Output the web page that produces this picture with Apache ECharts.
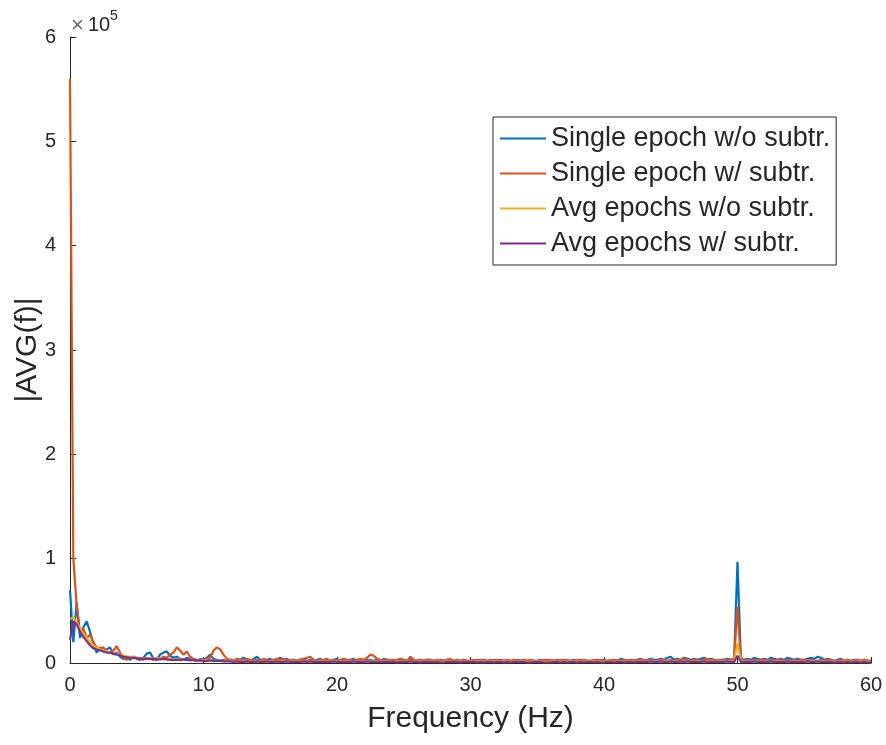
<!DOCTYPE html>
<html>
<head>
<meta charset="utf-8">
<script src="https://cdn.jsdelivr.net/npm/echarts@6/dist/echarts.min.js"></script>
<style>
  html, body { margin: 0; padding: 0; background: #fff; }
  #chart { width: 886px; height: 745px; }
</style>
</head>
<body>
<div id="chart"></div>
<script>
// Spectrum magnitude |AVG(f)| on a 0.25 Hz frequency grid, 0..60 Hz.
// Magnitudes below are written in thousands (x1e3).
const FREQ_STEP = 0.25;
const MAG_UNIT = 1000;

const seriesNames = [
  'Single epoch w/o subtr.',
  'Single epoch w/ subtr.',
  'Avg epochs w/o subtr.',
  'Avg epochs w/ subtr.'
];

// one row per Hz (4 bins each), last entry is 60 Hz
const singleNoSub = [
  70, 20, 58, 24,
  34, 40, 30, 18,
  10, 15, 11, 13,
  15, 8, 10, 6,
  4, 5, 3, 6,
  4, 3, 5, 9,
  10, 4, 3, 8,
  10, 11, 7, 5,
  6, 4, 3, 5,
  4, 3, 2, 4,
  3, 5, 8, 4,
  3, 2, 3, 2,
  3, 2, 4, 3,
  5, 3, 2, 4,
  6, 3, 2, 3,
  4, 2, 3, 5,
  3, 4, 2, 3,
  2, 3, 4, 2,
  3, 2, 3, 4,
  2, 3, 2, 3,
  4, 2, 3, 2,
  3, 4, 2, 3,
  2, 3, 3, 2,
  3, 2, 4, 3,
  2, 3, 2, 2,
  3, 2, 3, 2,
  2, 3, 2, 3,
  3, 2, 2, 3,
  2, 3, 2, 2,
  3, 2, 3, 2,
  2, 2, 3, 2,
  3, 2, 2, 3,
  2, 3, 2, 2,
  2, 2, 3, 2,
  3, 2, 2, 2,
  2, 3, 2, 3,
  2, 2, 3, 2,
  3, 2, 2, 3,
  2, 3, 2, 2,
  2, 2, 3, 2,
  3, 2, 2, 3,
  2, 4, 3, 2,
  3, 2, 3, 4,
  2, 3, 4, 3,
  3, 4, 3, 5,
  6, 3, 4, 3,
  5, 4, 3, 4,
  3, 4, 5, 3,
  4, 3, 2, 3,
  3, 4, 3, 4,
  97, 4, 3, 4,
  3, 5, 4, 3,
  4, 3, 5, 4,
  3, 4, 3, 5,
  4, 3, 4, 3,
  3, 4, 5, 4,
  6, 5, 3, 4,
  3, 2, 3, 4,
  2, 3, 2, 3,
  3, 2, 3, 2,
  2
];

const singleSub = [
  560, 100, 55, 30,
  33, 24, 27, 20,
  15, 14, 15, 11,
  10, 12, 16, 10,
  5, 3, 5, 6,
  5, 4, 3, 5,
  4, 3, 5, 4,
  6, 5, 8, 10,
  15, 12, 8, 11,
  6, 4, 3, 2,
  3, 4, 5, 12,
  15, 13, 8, 4,
  3, 2, 4, 3,
  2, 4, 3, 2,
  3, 2, 4, 3,
  2, 3, 4, 3,
  4, 2, 3, 3,
  2, 3, 4, 5,
  6, 3, 2, 3,
  3, 4, 2, 3,
  2, 3, 4, 3,
  3, 2, 3, 4,
  3, 5, 8, 7,
  4, 3, 2, 3,
  3, 2, 3, 4,
  3, 2, 6, 3,
  2, 3, 2, 3,
  3, 2, 3, 2,
  2, 3, 4, 2,
  3, 2, 3, 2,
  2, 3, 2, 3,
  2, 2, 3, 2,
  3, 2, 2, 3,
  2, 3, 2, 2,
  3, 2, 3, 2,
  2, 2, 3, 2,
  3, 2, 2, 3,
  2, 3, 2, 2,
  3, 2, 3, 2,
  2, 3, 2, 3,
  2, 2, 3, 2,
  3, 2, 2, 3,
  2, 3, 2, 3,
  3, 2, 3, 2,
  2, 3, 3, 2,
  3, 2, 3, 3,
  4, 3, 2, 3,
  3, 2, 3, 4,
  3, 2, 3, 2,
  3, 2, 3, 4,
  54, 3, 2, 3,
  2, 3, 2, 3,
  3, 2, 3, 2,
  3, 3, 2, 3,
  2, 3, 2, 3,
  3, 2, 3, 2,
  2, 3, 2, 3,
  3, 2, 2, 3,
  2, 3, 2, 2,
  3, 2, 3, 2,
  2
];

const avgNoSub = [
  42, 44, 38, 33,
  28, 24, 20, 17,
  15, 13, 12, 11,
  10, 9, 8.5, 8,
  7, 6.5, 6, 5.5,
  5, 5, 4.5, 4.5,
  4, 4, 4.5, 4,
  4, 3.5, 4, 3.5,
  4, 3.5, 3, 3,
  3, 3, 2.5, 3,
  2.5, 2.5, 2.5, 2,
  2.5, 2, 2, 2,
  2, 1.5, 2, 1.5,
  1.5, 2, 1.5, 1.5,
  2, 1.5, 1.5, 2,
  1.5, 1.5, 2, 1.5,
  1.5, 2, 1.5, 1.5,
  1.5, 1.5, 2, 1.5,
  2, 1.5, 1.5, 1.5,
  1.5, 1.5, 1.5, 2,
  1.5, 1.5, 1.5, 1.5,
  1.5, 2, 1.5, 1.5,
  1.5, 2, 2, 1.5,
  1.5, 1.5, 1.5, 1.5,
  1.5, 1.5, 1, 1.5,
  1.5, 1.5, 2, 1.5,
  1.5, 1, 1.5, 1.5,
  1.5, 1.5, 1.5, 1,
  1, 1.5, 1.5, 1.5,
  1.5, 1, 1.5, 1.5,
  1.5, 1.5, 1, 1.5,
  1, 1.5, 1.5, 1,
  1.5, 1.5, 1, 1.5,
  1, 1.5, 1.5, 1.5,
  1.5, 1, 1, 1.5,
  1.5, 1.5, 1, 1,
  1, 1.5, 1.5, 1,
  1.5, 1, 1.5, 1.5,
  1, 1.5, 1, 1.5,
  1.5, 1, 1.5, 1,
  1, 1.5, 1.5, 1,
  1.5, 1.5, 1, 1.5,
  1.5, 1, 1.5, 1.5,
  1.5, 1.5, 2, 1.5,
  1.5, 2, 1.5, 1.5,
  2, 1.5, 1.5, 2,
  1.5, 2, 1.5, 1.5,
  1.5, 1.5, 2, 1.5,
  1.5, 1.5, 1.5, 1.5,
  1.5, 2, 1.5, 2,
  19, 2, 1.5, 1.5,
  1.5, 2, 1.5, 1.5,
  1.5, 1.5, 2, 1.5,
  1.5, 1.5, 1.5, 2,
  1.5, 1.5, 1.5, 1.5,
  1.5, 2, 1.5, 1.5,
  2, 1.5, 1.5, 1.5,
  1.5, 1, 1.5, 1.5,
  1, 1.5, 1, 1.5,
  1.5, 1, 1.5, 1,
  1
];

const avgSub = [
  22, 40, 37, 30,
  25, 21, 17, 14,
  13, 12, 11, 10,
  10, 9, 8, 7.5,
  6, 5.5, 5, 5,
  4.5, 4.5, 4, 4,
  4, 4, 3.5, 3.5,
  4, 3.5, 3, 3,
  3, 3, 3.5, 3,
  2.5, 3, 2.5, 2.5,
  2, 2, 2.5, 2,
  2, 2, 1.5, 1.5,
  1.5, 1, 1.5, 1,
  1, 1.5, 1, 1,
  1.5, 1, 1, 1.5,
  1, 1, 1.5, 1,
  1, 1.5, 1, 1,
  1, 1, 1.5, 1,
  1.5, 1, 1, 1,
  1, 1, 1, 1.5,
  1, 1, 1, 1,
  1, 1.5, 1, 1,
  1, 1.5, 1, 1,
  1, 1, 1, 1,
  1, 1, 0.5, 1,
  1, 1, 1.5, 1,
  1, 0.5, 1, 1,
  1, 1, 1, 0.5,
  0.5, 1, 1, 1,
  1, 0.5, 1, 1,
  1, 1, 0.5, 1,
  0.5, 1, 1, 0.5,
  1, 1, 0.5, 1,
  0.5, 1, 1, 1,
  1, 0.5, 0.5, 1,
  1, 1, 0.5, 0.5,
  0.5, 1, 1, 0.5,
  1, 0.5, 1, 1,
  0.5, 1, 0.5, 1,
  1, 0.5, 1, 0.5,
  0.5, 1, 1, 0.5,
  1, 1, 0.5, 1,
  1, 0.5, 1, 1,
  1, 1, 1.5, 1,
  1, 1.5, 1, 1,
  1.5, 1, 1, 1.5,
  1, 1.5, 1, 1,
  1, 1, 1.5, 1,
  1, 1, 1, 1,
  1, 1.5, 1, 1,
  7, 1, 1, 1,
  1, 1.5, 1, 1,
  1, 1, 1.5, 1,
  1, 1, 1, 1.5,
  1, 1, 1, 1,
  1, 1.5, 1, 1,
  1.5, 1, 1, 1,
  1, 0.5, 1, 1,
  0.5, 1, 0.5, 1,
  1, 0.5, 1, 0.5,
  0.5
];

const xTicks = [0, 10, 20, 30, 40, 50, 60];
const yTicks = [0, 1, 2, 3, 4, 5, 6]; // x1e5

const colors = ['#0072BD', '#D95319', '#EDB120', '#7E2F8E'];
const valueSets = [singleNoSub, singleSub, avgNoSub, avgSub];

const FONT = 'Liberation Sans, Arial, Helvetica, sans-serif';
const INK = '#262626';

function toPairs(values) {
  return values.map((v, i) => [i * FREQ_STEP, v * MAG_UNIT]);
}

const chart = echarts.init(document.getElementById('chart'), null, { renderer: 'canvas' });

chart.setOption({
  animation: false,
  backgroundColor: '#ffffff',
  textStyle: { fontFamily: FONT },
  grid: { left: 70, top: 37, right: 15, bottom: 82, containLabel: false },
  xAxis: {
    type: 'value',
    min: xTicks[0],
    max: xTicks[xTicks.length - 1],
    interval: xTicks[1] - xTicks[0],
    name: 'Frequency (Hz)',
    nameLocation: 'middle',
    nameGap: 41,
    nameMoveOverlap: false,
    nameTextStyle: { fontSize: 30, color: INK, fontFamily: FONT, verticalAlign: 'top' },
    axisLine: { show: true, lineStyle: { color: INK, width: 1 } },
    axisTick: { show: true, inside: true, length: 6, lineStyle: { color: INK } },
    axisLabel: { fontSize: 20, color: INK, margin: 12, fontFamily: FONT },
    splitLine: { show: false }
  },
  yAxis: {
    type: 'value',
    min: yTicks[0] * 1e5,
    max: yTicks[yTicks.length - 1] * 1e5,
    interval: 1e5,
    name: '|AVG(f)|',
    nameLocation: 'middle',
    nameRotate: 90,
    nameGap: 27,
    nameMoveOverlap: false,
    nameTextStyle: { fontSize: 30, color: INK, fontFamily: FONT },
    axisLine: { show: true, lineStyle: { color: INK, width: 1 } },
    axisTick: { show: true, inside: true, length: 6, lineStyle: { color: INK } },
    axisLabel: {
      fontSize: 20, color: INK, margin: 14, fontFamily: FONT,
      formatter: v => String(Math.round(v / 1e5))
    },
    splitLine: { show: false }
  },
  legend: {
    orient: 'vertical',
    left: 493,
    top: 117,
    padding: [8, 6, 8, 7],
    itemGap: 8,
    itemWidth: 46,
    itemHeight: 14,
    backgroundColor: '#ffffff',
    borderColor: INK,
    borderWidth: 1,
    borderRadius: 0,
    selectedMode: false,
    textStyle: { fontSize: 27, color: INK, fontFamily: FONT, lineHeight: 27 },
    data: seriesNames.map(n => ({ name: n, icon: 'path://M0,6 L46,6 L46,8 L0,8 Z' }))
  },
  graphic: [
    { type: 'text', style: { text: '×', x: 71, y: 26, fill: '#666', fontSize: 22, fontFamily: FONT, verticalAlign: 'middle', align: 'left' } },
    { type: 'text', style: { text: '10', x: 88, y: 25, fill: INK, fontSize: 20, fontFamily: FONT, verticalAlign: 'middle', align: 'left' } },
    { type: 'text', style: { text: '5', x: 110, y: 16, fill: INK, fontSize: 14, fontFamily: FONT, verticalAlign: 'middle', align: 'left' } }
  ],
  series: valueSets.map((vals, k) => ({
    name: seriesNames[k],
    type: 'line',
    data: toPairs(vals),
    symbol: 'none',
    smooth: false,
    color: colors[k],
    lineStyle: { color: colors[k], width: 2.2 },
    emphasis: { disabled: true }
  }))
});
</script>
</body>
</html>
